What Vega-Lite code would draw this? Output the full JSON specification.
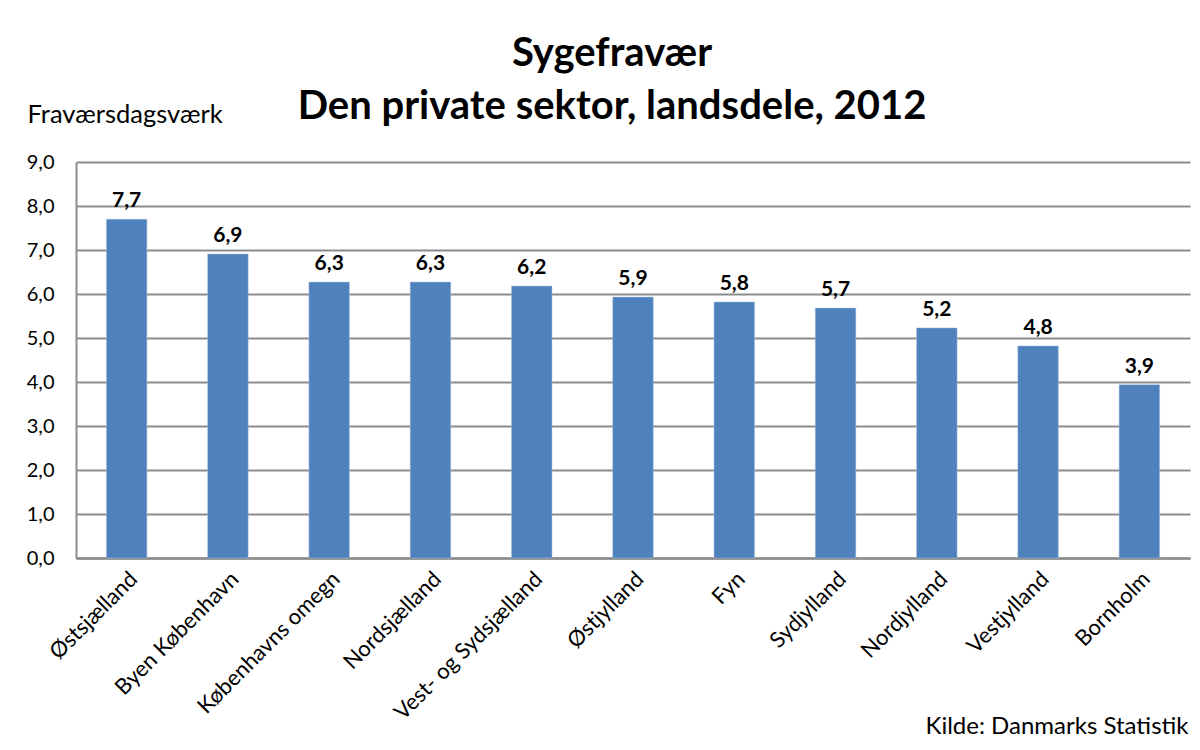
{
  "$schema": "https://vega.github.io/schema/vega-lite/v6.json",
  "autosize": "none",
  "width": 1114,
  "height": 396,
  "padding": {"left": 76, "top": 162, "right": 10, "bottom": 192},
  "background": "white",
  "config": {
    "locale": {"number": {"decimal": ",", "thousands": ".", "grouping": [3], "currency": ["", " kr."]}},
    "font": "Lato",
    "view": {"stroke": null}
  },
  "title": {
    "text": ["Sygefravær", "Den private sektor, landsdele, 2012"],
    "font": "Lato",
    "fontSize": 40,
    "fontWeight": "bold",
    "color": "black",
    "anchor": "middle",
    "frame": "group",
    "dx": -21,
    "baseline": "alphabetic",
    "lineHeight": 53,
    "offset": -57
  },
  "data": {
    "values": [
      {"landsdel": "Østsjælland", "fravaer": 7.7},
      {"landsdel": "Byen København", "fravaer": 6.91},
      {"landsdel": "Københavns omegn", "fravaer": 6.27},
      {"landsdel": "Nordsjælland", "fravaer": 6.27},
      {"landsdel": "Vest- og Sydsjælland", "fravaer": 6.18},
      {"landsdel": "Østjylland", "fravaer": 5.93},
      {"landsdel": "Fyn", "fravaer": 5.82},
      {"landsdel": "Sydjylland", "fravaer": 5.68},
      {"landsdel": "Nordjylland", "fravaer": 5.23},
      {"landsdel": "Vestjylland", "fravaer": 4.82},
      {"landsdel": "Bornholm", "fravaer": 3.94}
    ]
  },
  "encoding": {
    "x": {
      "field": "landsdel",
      "type": "nominal",
      "sort": null,
      "scale": {"paddingInner": 0.6, "paddingOuter": 0.3},
      "axis": {
        "title": "Kilde: Danmarks Statistik",
        "titleFont": "Lato",
        "titleFontSize": 24,
        "titleFontWeight": "normal",
        "titleColor": "black",
        "titleX": 1112,
        "titleY": 175,
        "titleAlign": "right",
        "titleBaseline": "alphabetic",
        "labelAngle": -45,
        "labelFont": "Lato",
        "labelFontSize": 22,
        "labelColor": "black",
        "labelPadding": 10,
        "labelLimit": 0,
        "labelOverlap": false,
        "ticks": false,
        "domainColor": "#8c8c8c",
        "domainWidth": 2.5
      }
    },
    "y": {
      "field": "fravaer",
      "type": "quantitative",
      "scale": {"domain": [0, 9], "nice": false},
      "axis": {
        "values": [0, 1, 2, 3, 4, 5, 6, 7, 8, 9],
        "format": ".1f",
        "title": "Fraværsdagsværk",
        "titleAngle": 0,
        "titleX": -49,
        "titleY": -40,
        "titleAlign": "left",
        "titleBaseline": "alphabetic",
        "titleFont": "Lato",
        "titleFontSize": 25.5,
        "titleFontWeight": "normal",
        "titleColor": "black",
        "labelFont": "Lato",
        "labelFontSize": 20,
        "labelColor": "black",
        "labelPadding": 22,
        "ticks": false,
        "grid": true,
        "gridColor": "#8c8c8c",
        "gridWidth": 2,
        "gridOpacity": 1,
        "domainColor": "#8c8c8c",
        "domainWidth": 2
      }
    }
  },
  "layer": [
    {
      "mark": {"type": "bar", "color": "#4F81BD", "stroke": "#A7C0DE", "strokeWidth": 0.5}
    },
    {
      "mark": {"type": "text", "dy": -12, "baseline": "alphabetic", "font": "Lato", "fontSize": 21, "fontWeight": "bold", "color": "black"},
      "encoding": {
        "text": {"field": "fravaer", "type": "quantitative", "format": ".1f"}
      }
    }
  ]
}
